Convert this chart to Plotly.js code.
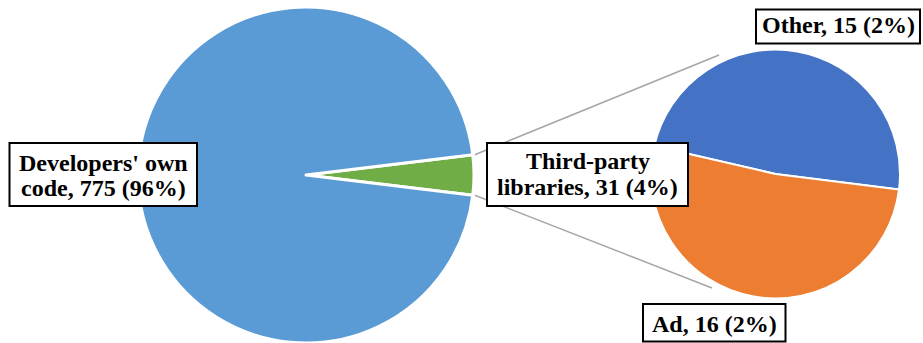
<!DOCTYPE html>
<html>
<head>
<meta charset="utf-8">
<script src="https://cdn.plot.ly/plotly-3.0.1.min.js"></script>
<style>
  html, body { margin: 0; padding: 0; background: #fff; }
  #chart { width: 923px; height: 343px; }
</style>
</head>
<body>
<div id="chart"></div>
<script>
// Breakdown of code origin, with the third-party share split out into a second pie
const mainLabels = ['Third-party libraries', "Developers' own code"];
const mainValues = [31, 775];
const subLabels = ['Other', 'Ad'];
const subValues = [15, 16];

// Label text, one entry per drawn line
const devLabelLines = ["Developers' own", 'code, 775 (96%)'];
const thirdLabelLines = ['Third-party', 'libraries, 31 (4%)'];
const otherLabelLines = ['Other, 15 (2%)'];
const adLabelLines = ['Ad, 16 (2%)'];

const W = 923, H = 343;
const px = x => x / W;
const py = y => 1 - y / H;

// Pie geometry in pixels
const mainC = { x: 306, y: 175, r: 168 };
const subC = { x: 775.5, y: 174, r: 124.5 };

const mainTotal = mainValues.reduce((a, b) => a + b, 0);
// centre the third-party slice on the 3 o'clock direction
const halfAngle = 180 * mainValues[0] / mainTotal;
const mainRotation = 90 - halfAngle;

const FONT = 'Liberation Serif';
const FS = 24;

const traces = [
  {
    type: 'pie',
    labels: mainLabels,
    values: mainValues,
    sort: false,
    direction: 'clockwise',
    rotation: mainRotation,
    textinfo: 'none',
    hoverinfo: 'label+value+percent',
    marker: { colors: ['#70AD47', '#5B9BD5'], line: { color: '#ffffff', width: 3 } },
    domain: { x: [px(mainC.x - mainC.r), px(mainC.x + mainC.r)], y: [py(mainC.y + mainC.r), py(mainC.y - mainC.r)] },
    showlegend: false
  },
  {
    type: 'pie',
    labels: subLabels,
    values: subValues,
    sort: false,
    direction: 'clockwise',
    rotation: -77,
    textinfo: 'none',
    hoverinfo: 'label+value+percent',
    marker: { colors: ['#4472C4', '#ED7D31'], line: { color: '#ffffff', width: 2 } },
    domain: { x: [px(subC.x - subC.r), px(subC.x + subC.r)], y: [py(subC.y + subC.r), py(subC.y - subC.r)] },
    showlegend: false
  }
];

// Connector lines from the third-party slice's outer corners to the second pie
const rad = halfAngle * Math.PI / 180;
const cornerTop = { x: mainC.x + mainC.r * Math.cos(rad) + 2, y: mainC.y - mainC.r * Math.sin(rad) };
const cornerBot = { x: mainC.x + mainC.r * Math.cos(rad) + 2, y: mainC.y + mainC.r * Math.sin(rad) };
const subTop = { x: 719, y: 55 };
const subBot = { x: 712, y: 288 };

const shapes = [
  { type: 'line', xref: 'paper', yref: 'paper', x0: px(cornerTop.x), y0: py(cornerTop.y), x1: px(subTop.x), y1: py(subTop.y), line: { color: '#A6A6A6', width: 1.5 }, layer: 'below' },
  { type: 'line', xref: 'paper', yref: 'paper', x0: px(cornerBot.x), y0: py(cornerBot.y), x1: px(subBot.x), y1: py(subBot.y), line: { color: '#A6A6A6', width: 1.5 }, layer: 'below' }
];

const annotations = [];
function labelBox(x0, y0, x1, y1, lines, baselines) {
  shapes.push({
    type: 'rect', xref: 'paper', yref: 'paper',
    x0: px(x0), x1: px(x1), y0: py(y1), y1: py(y0),
    fillcolor: '#ffffff', line: { color: '#000000', width: 2 }, layer: 'above'
  });
  const cx = (x0 + x1) / 2;
  lines.forEach((t, i) => {
    annotations.push({
      xref: 'paper', yref: 'paper',
      x: px(cx), y: py(baselines[i] - 0.3375 * FS),
      xanchor: 'center', yanchor: 'middle',
      text: '<b>' + t + '</b>', showarrow: false,
      font: { family: FONT, size: FS, color: '#000000' }
    });
  });
}

labelBox(9.5, 143, 197, 206, devLabelLines, [170.7, 196]);
labelBox(487, 143, 688, 206, thirdLabelLines, [169.3, 195]);
labelBox(756, 9.5, 920, 43.5, otherLabelLines, [33.3]);
labelBox(643, 304, 785.5, 341.5, adLabelLines, [331.7]);

const layout = {
  width: W, height: H,
  margin: { l: 0, r: 0, t: 0, b: 0 },
  paper_bgcolor: '#ffffff',
  plot_bgcolor: '#ffffff',
  showlegend: false,
  shapes: shapes,
  annotations: annotations
};

Plotly.newPlot('chart', traces, layout, { displayModeBar: false, staticPlot: true });
</script>
</body>
</html>
